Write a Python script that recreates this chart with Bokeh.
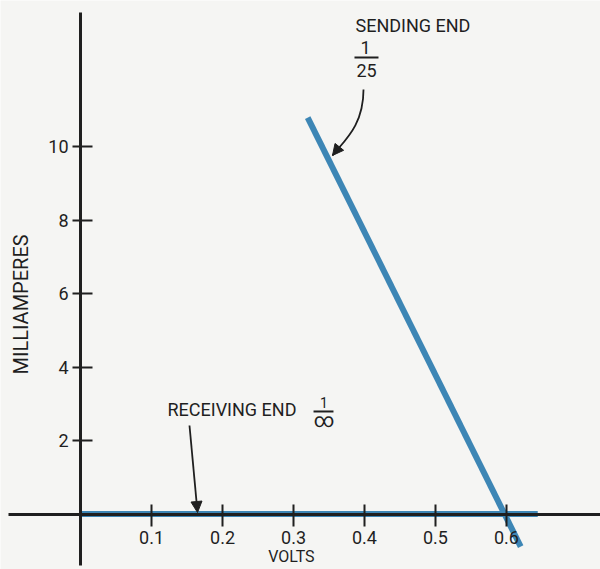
import math
from bokeh.plotting import figure
from bokeh.models import FixedTicker, Label, Arrow, NormalHead, Range1d
from bokeh.embed import file_html
from bokeh.resources import INLINE

# ---- data ----
volts_ticks = [0.1, 0.2, 0.3, 0.4, 0.5, 0.6]
volts_tick_labels = ["0.1", "0.2", "0.3", "0.4", "0.5", "0.6"]
ma_ticks = [2, 4, 6, 8, 10]
ma_tick_labels = ["2", "4", "6", "8", "10"]

sending_volts = [0.32, 0.62]
sending_ma = [10.8, -0.89]

receiving_volts = [0.0, 0.644]
receiving_ma = [0.0, 0.0]

# ---- styles ----
BG = "#f5f5f3"
INK = "#1f1f1f"
BLUE = "#3d86b5"
FONT = "Roboto"

p = figure(width=600, height=569,
           x_range=Range1d(-0.1127, 0.7324), y_range=Range1d(-1.512, 13.99),
           output_backend="svg", toolbar_location=None, min_border=0,
           background_fill_color=BG, border_fill_color=BG,
           outline_line_color=None)
p.grid.visible = False
p.xaxis.fixed_location = 0
p.yaxis.fixed_location = 0
p.xaxis.bounds = (-0.1014, 0.7324)
p.yaxis.bounds = (-1.40, 13.66)

for ax in (p.xaxis[0], p.yaxis[0]):
    ax.axis_line_width = 3
    ax.axis_line_color = INK
    ax.major_tick_line_width = 2
    ax.major_tick_line_color = INK
    ax.minor_tick_line_color = None
    ax.major_label_text_font = FONT
    ax.major_label_text_font_size = "18px"
    ax.major_label_text_color = INK

p.xaxis.ticker = FixedTicker(ticks=volts_ticks)
p.xaxis.major_label_overrides = dict(zip(volts_ticks, volts_tick_labels))
p.xaxis.major_tick_in = 10
p.xaxis.major_tick_out = 12
p.xaxis.major_label_standoff = 5

p.yaxis.ticker = FixedTicker(ticks=ma_ticks)
p.yaxis.major_label_overrides = dict(zip(ma_ticks, ma_tick_labels))
p.yaxis.major_tick_in = 12
p.yaxis.major_tick_out = 8
p.yaxis.major_label_standoff = 4

# ---- curves ----
p.line(receiving_volts, receiving_ma, line_width=6, line_color=BLUE, line_cap="butt")
p.line(sending_volts, sending_ma, line_width=6, line_color=BLUE, line_cap="butt")

# ---- axis titles ----
p.add_layout(Label(x=0.297, y=-1.16, text="VOLTS", text_font=FONT, text_font_size="16px",
                   text_color=INK, text_align="center", text_baseline="middle"))
p.add_layout(Label(x=-0.0845, y=5.71, text="MILLIAMPERES", text_font=FONT, text_font_size="20px",
                   text_color=INK, text_align="center", text_baseline="middle",
                   angle=math.pi / 2))

# ---- annotations: sending end ----
p.add_layout(Label(x=0.3873, y=13.31, text="SENDING END", text_font=FONT, text_font_size="18px",
                   text_color=INK, text_align="left", text_baseline="middle"))
p.add_layout(Label(x=0.4014, y=12.71, text="1", text_font=FONT, text_font_size="18px",
                   text_color=INK, text_align="center", text_baseline="middle"))
p.segment(x0=[0.3859], y0=[12.44], x1=[0.4197], y1=[12.44], line_width=2, line_color=INK)
p.add_layout(Label(x=0.4028, y=12.08, text="25", text_font=FONT, text_font_size="18px",
                   text_color=INK, text_align="center", text_baseline="middle"))
p.bezier(x0=[0.3986], y0=[11.567], x1=[0.3549], y1=[9.768],
         cx0=[0.3986], cy0=[10.586], cx1=[0.3718], cy1=[10.177],
         line_width=1.8, line_color=INK)
p.add_layout(Arrow(end=NormalHead(size=11, fill_color=INK, line_color=INK),
                   x_start=0.3718, y_start=10.177, x_end=0.3549, y_end=9.768,
                   line_alpha=0))

# ---- annotations: receiving end ----
p.add_layout(Label(x=0.1225, y=2.834, text="RECEIVING END", text_font=FONT, text_font_size="18px",
                   text_color=INK, text_align="left", text_baseline="middle"))
p.add_layout(Label(x=0.343, y=3.05, text="1", text_font=FONT, text_font_size="14px",
                   text_color=INK, text_align="center", text_baseline="middle"))
p.segment(x0=[0.3282], y0=[2.793], x1=[0.3563], y1=[2.793], line_width=2, line_color=INK)
p.add_layout(Label(x=0.343, y=2.55, text="\u221e", text_font=FONT, text_font_size="20px",
                   text_color=INK, text_align="center", text_baseline="middle"))
p.add_layout(Arrow(end=NormalHead(size=11, fill_color=INK, line_color=INK),
                   x_start=0.1535, y_start=2.411, x_end=0.1648, y_end=0.041,
                   line_color=INK, line_width=1.8))

open("out.html", "w").write(file_html(p, INLINE))
